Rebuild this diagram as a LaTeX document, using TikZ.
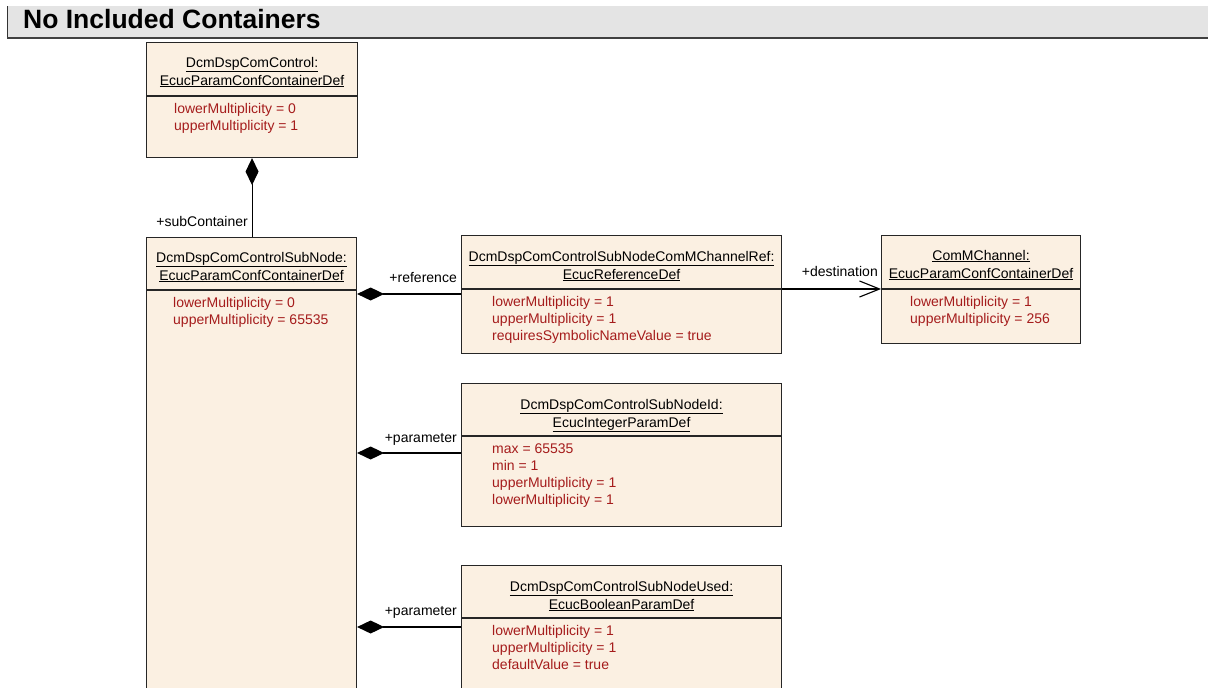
\documentclass[tikz,border=0pt]{standalone}
\usepackage{fontspec}
\setmainfont{Liberation Sans}
\usetikzlibrary{arrows.meta,positioning}

\definecolor{classfill}{RGB}{251,240,226}
\definecolor{attrred}{RGB}{165,28,28}
\definecolor{bargray}{RGB}{228,228,228}

\tikzset{
  classbox/.style={draw=black!85, line width=1.1pt, fill=classfill, anchor=north west,
    inner sep=0pt},
  divider/.style={draw=black!85, line width=1.1pt},
  headtxt/.style={anchor=base, align=center, inner sep=0pt,
    font=\fontsize{14}{18}\selectfont},
  attr/.style={anchor=base west, align=left, inner sep=0pt, text=attrred,
    font=\fontsize{14}{17}\selectfont},
  role/.style={anchor=base east, inner sep=0pt, font=\fontsize{14}{16}\selectfont},
  comp/.style={line width=1.1pt, {Diamond[length=27pt,width=13pt]}-},
  assoc/.style={line width=1.1pt, -{Straight Barb[length=20pt,width=16pt]}},
}

\begin{document}
\begin{tikzpicture}[x=1pt, y=-1pt]

    \useasboundingbox (0,0) rectangle (1208,688);
    \clip (0,0) rectangle (1208,688);

    % Title bar
    \fill[bargray] (7,6) rectangle (1208,38);
    \draw[line width=1pt, black!80] (7,6) -- (7,38);
    \draw[line width=2pt, black!75] (7,38) -- (1208,38);
    \node[anchor=base west, inner sep=0pt, font=\bfseries\fontsize{26.5}{30}\selectfont]
        (title) at (23,28) {No Included Containers};

    % Containers (base anchor sits on the last line)
    \node[classbox, minimum width=211, minimum height=115] (ctrl) at (146,42) {};
    \node[headtxt, yshift=-43pt] (ctrl-name) at (ctrl.north)
        {\underline{DcmDspComControl:}\\\underline{EcucParamConfContainerDef}};
    \draw[divider] ([yshift=-54pt]ctrl.north west) -- ([yshift=-54pt]ctrl.north east);
    \node[attr, xshift=28pt, yshift=-88pt] (ctrl-attr) at (ctrl.north west)
        {lowerMultiplicity = 0\\upperMultiplicity = 1};

    \node[classbox, minimum width=210, minimum height=480] (sub) at (146,237) {};
    \node[headtxt, yshift=-43pt] (sub-name) at (sub.north)
        {\underline{DcmDspComControlSubNode:}\\\underline{EcucParamConfContainerDef}};
    \draw[divider] ([yshift=-53pt]sub.north west) -- ([yshift=-53pt]sub.north east);
    \node[attr, xshift=27pt, yshift=-87pt] (sub-attr) at (sub.north west)
        {lowerMultiplicity = 0\\upperMultiplicity = 65535};

    % Reference
    \node[classbox, minimum width=320, minimum height=118] (chref) at (461,235) {};
    \node[headtxt, yshift=-44pt] (chref-name) at (chref.north)
        {\underline{DcmDspComControlSubNodeComMChannelRef:}\\\underline{EcucReferenceDef}};
    \draw[divider] ([yshift=-54pt]chref.north west) -- ([yshift=-54pt]chref.north east);
    \node[attr, xshift=31pt, yshift=-105pt] (chref-attr) at (chref.north west)
        {lowerMultiplicity = 1\\upperMultiplicity = 1\\requiresSymbolicNameValue = true};

    \node[classbox, minimum width=199, minimum height=108] (chan) at (881,235) {};
    \node[headtxt, yshift=-43pt] (chan-name) at (chan.north)
        {\underline{ComMChannel:}\\\underline{EcucParamConfContainerDef}};
    \draw[divider] ([yshift=-54pt]chan.north west) -- ([yshift=-54pt]chan.north east);
    \node[attr, xshift=29pt, yshift=-88pt] (chan-attr) at (chan.north west)
        {lowerMultiplicity = 1\\upperMultiplicity = 256};

    % Parameters
    \node[classbox, minimum width=320, minimum height=143] (nodeid) at (461,383) {};
    \node[headtxt, yshift=-44pt] (nodeid-name) at (nodeid.north)
        {\underline{DcmDspComControlSubNodeId:}\\\underline{EcucIntegerParamDef}};
    \draw[divider] ([yshift=-53pt]nodeid.north west) -- ([yshift=-53pt]nodeid.north east);
    \node[attr, xshift=31pt, yshift=-121pt] (nodeid-attr) at (nodeid.north west)
        {max = 65535\\min = 1\\upperMultiplicity = 1\\lowerMultiplicity = 1};

    \node[classbox, minimum width=320, minimum height=140] (used) at (461,565) {};
    \node[headtxt, yshift=-44pt] (used-name) at (used.north)
        {\underline{DcmDspComControlSubNodeUsed:}\\\underline{EcucBooleanParamDef}};
    \draw[divider] ([yshift=-53pt]used.north west) -- ([yshift=-53pt]used.north east);
    \node[attr, xshift=31pt, yshift=-104pt] (used-attr) at (used.north west)
        {lowerMultiplicity = 1\\upperMultiplicity = 1\\defaultValue = true};

    % Connectors
    \draw[comp] (ctrl.south) -- (ctrl.south |- sub.north);
    \node[role, xshift=-4pt, yshift=11pt] (subcont-lbl) at (ctrl.south |- sub.north) {+subContainer};

    \coordinate (chref-in) at ([yshift=-59pt]chref.north west);
    \draw[comp] (sub.east |- chref-in) -- (chref-in);
    \node[role, xshift=-4pt, yshift=12pt] (ref-lbl) at (chref-in) {+reference};

    \coordinate (chan-in) at ([yshift=-54pt]chan.north west);
    \draw[assoc] (chref.east |- chan-in) -- (chan-in);
    \node[role, xshift=-3pt, yshift=13pt] (dest-lbl) at (chan-in) {+destination};

    \coordinate (nodeid-in) at ([yshift=-70pt]nodeid.north west);
    \draw[comp] (sub.east |- nodeid-in) -- (nodeid-in);
    \node[role, xshift=-4pt, yshift=11pt] (par1-lbl) at (nodeid-in) {+parameter};

    \coordinate (used-in) at ([yshift=-62pt]used.north west);
    \draw[comp] (sub.east |- used-in) -- (used-in);
    \node[role, xshift=-4pt, yshift=12pt] (par2-lbl) at (used-in) {+parameter};

\end{tikzpicture}
\end{document}
